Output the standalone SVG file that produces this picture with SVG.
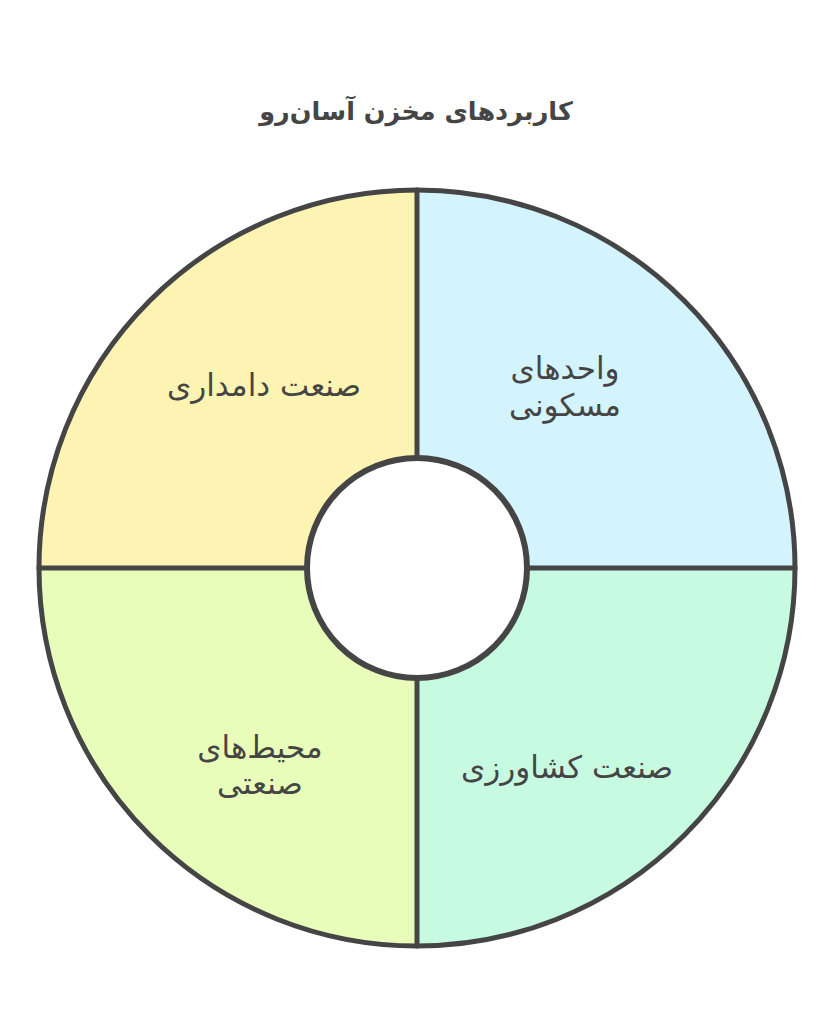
<svg xmlns="http://www.w3.org/2000/svg" width="834" height="1024" viewBox="0 0 834 1024">
<style>
.q{stroke:none}
.ln{stroke:#454545;stroke-width:5;fill:none;stroke-linecap:round}
.t{font-family:"DejaVu Sans","Noto Sans",sans-serif;fill:#454545;text-anchor:middle}
.title{font-size:25.5px;font-weight:bold}
.lbl{font-size:31px}
</style>
<rect width="834" height="1024" fill="#ffffff"/>
<g id="q-dairy"><path class="q" fill="#fdf4b3" d="M417,568 L39,568 A378,378 0 0 1 417,190 Z"/><text class="t lbl" x="264" y="396" direction="rtl">صنعت دامداری</text></g>
<g id="q-residential"><path class="q" fill="#d3f3fd" d="M417,568 L417,190 A378,378 0 0 1 795,568 Z"/><text class="t lbl" x="565" y="379" direction="rtl">واحدهای</text><text class="t lbl" x="565" y="416" direction="rtl">مسکونی</text></g>
<g id="q-agri"><path class="q" fill="#c6fbe2" d="M417,568 L795,568 A378,378 0 0 1 417,946 Z"/><text class="t lbl" x="567" y="778" direction="rtl">صنعت کشاورزی</text></g>
<g id="q-industrial"><path class="q" fill="#e7fdb9" d="M417,568 L417,946 A378,378 0 0 1 39,568 Z"/><text class="t lbl" x="260" y="758" direction="rtl">محیط‌های</text><text class="t lbl" x="260" y="794" direction="rtl">صنعتی</text></g>
<g id="connectors">
<circle class="ln" cx="417" cy="568" r="378"/>
<line class="ln" x1="417" y1="190" x2="417" y2="458"/>
<line class="ln" x1="417" y1="678" x2="417" y2="946"/>
<line class="ln" x1="39" y1="568" x2="307" y2="568"/>
<line class="ln" x1="527" y1="568" x2="795" y2="568"/>
</g>
<g id="center"><circle cx="417" cy="568" r="110" fill="#ffffff" stroke="#454545" stroke-width="6"/></g>
<g id="title"><text class="t title" x="416" y="120" direction="rtl">کاربردهای مخزن آسان‌رو</text></g>
</svg>
